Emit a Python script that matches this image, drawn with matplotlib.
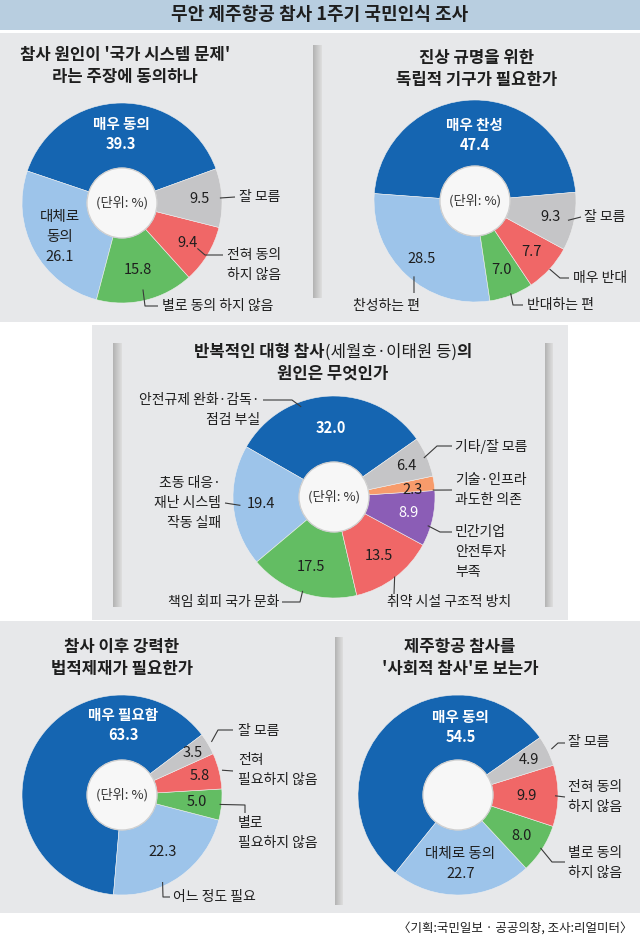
import numpy as np
import matplotlib
matplotlib.use('Agg')
import matplotlib.pyplot as plt
from matplotlib.patches import Rectangle, Circle
from matplotlib.colors import LinearSegmentedColormap

plt.rcParams['font.family'] = ['Noto Sans CJK KR', 'DejaVu Sans']

W, H = 640, 940

# ---------------- data ----------------
TITLE = '무안 제주항공 참사 1주기 국민인식 조사'
SOURCE = '〈기획:국민일보 · 공공의창, 조사:리얼미터〉'
UNIT = '(단위: %)'

q1_title = ["참사 원인이 '국가 시스템 문제'", '라는 주장에 동의하나']
q1_labels = ['매우 동의', '대체로\n동의', '별로 동의 하지 않음', '전혀 동의\n하지 않음', '잘 모름']
q1_values = [39.3, 26.1, 15.8, 9.4, 9.5]

q2_title = ['진상 규명을 위한', '독립적 기구가 필요한가']
q2_labels = ['매우 찬성', '찬성하는 편', '반대하는 편', '매우 반대', '잘 모름']
q2_values = [47.4, 28.5, 7.0, 7.7, 9.3]

q3_title = [['반복적인 대형 참사', '(세월호·이태원 등)', '의'], '원인은 무엇인가']
q3_labels = ['안전규제 완화·감독·\n점검 부실', '초동 대응·\n재난 시스템\n작동 실패', '책임 회피 국가 문화',
             '취약 시설 구조적 방치', '민간기업\n안전투자\n부족', '기술·인프라\n과도한 의존', '기타/잘 모름']
q3_values = [32.0, 19.4, 17.5, 13.5, 8.9, 2.3, 6.4]

q4_title = ['참사 이후 강력한', '법적제재가 필요한가']
q4_labels = ['매우 필요함', '어느 정도 필요', '별로\n필요하지 않음', '전혀\n필요하지 않음', '잘 모름']
q4_values = [63.3, 22.3, 5.0, 5.8, 3.5]

q5_title = ['제주항공 참사를', "'사회적 참사'로 보는가"]
q5_labels = ['매우 동의', '대체로 동의', '별로 동의\n하지 않음', '전혀 동의\n하지 않음', '잘 모름']
q5_values = [54.5, 22.7, 8.0, 9.9, 4.9]

# ---------------- style ----------------
BLUE, LBLUE, GREEN, RED = '#1565b1', '#9dc4ea', '#63bd63', '#f06767'
GRAY, ORANGE, PURPLE = '#c5c5c7', '#f79b6b', '#8b5db6'
PAL5 = [BLUE, LBLUE, GREEN, RED, GRAY]
PAL7 = [BLUE, LBLUE, GREEN, RED, PURPLE, ORANGE, GRAY]
PANEL = '#e7e8ea'
BAR = '#b8cee0'
INK = '#1e1e1e'
HOLE = 35          # px radius of the white hole
GAP = 20           # px between label lines
FS_TITLE, FS_SUB, FS_LAB, FS_NUM = 13, 12, 10, 10.5

# layout per chart: inside = (radius frac, angle override, show name) per wedge
# outside = wedge -> (radius frac, angle override, leader points, first line xy, ha)
LAYOUT = [
    dict(center=(122, 203), radius=100, start=20, title_xy=(125, 55), unit=True,
         inside=[(0.69, None, True), (0.71, None, True), (0.69, None, False),
                 (0.77, None, False), (0.78, None, False)],
         outside={2: (0.89, None, [(145, 306), (158, 306)], (162, 306), 'left'),
                  3: (0.88, None, [(205, 255), (223, 255)], (227, 255), 'left'),
                  4: (0.98, None, [(235, 197)], (239, 197), 'left')}),
    dict(center=(475, 201), radius=101, start=5, title_xy=(477, 58), unit=True,
         inside=[(0.65, None, True), (0.78, None, False), (0.73, None, False),
                 (0.75, None, False), (0.76, None, False)],
         outside={1: (0.96, 231, [(414, 293)], (353, 306), 'left'),
                  2: (0.98, None, [(513, 305), (523, 305)], (527, 305), 'left'),
                  3: (1.0, None, [(560, 278), (569, 278)], (573, 278), 'left'),
                  4: (0.94, None, [(581, 217)], (584, 217), 'left')}),
    dict(center=(334, 497), radius=101, start=35, title_xy=(333, 352), unit=True,
         inside=[(0.68, None, False), (0.73, None, False), (0.73, None, False), (0.74, None, False),
                 (0.76, None, False), (0.78, 5, False), (0.78, None, False)],
         outside={0: (0.95, 110, [(292, 400), (263, 400)], (260, 400), 'right'),
                  1: (0.93, None, [(225, 503)], (221, 483), 'right'),
                  2: (0.98, None, [(300, 602), (282, 602)], (279, 602), 'right'),
                  3: (0.99, None, [(394, 594)], (387, 602), 'left'),
                  4: (0.97, 343, [(440, 532), (452, 532)], (455, 532), 'left'),
                  5: (0.98, 4, [(452, 490)], (455, 480), 'left'),
                  6: (0.97, None, [(437, 446), (452, 446)], (455, 446), 'left')}),
    dict(center=(122, 795), radius=100, start=37, title_xy=(122, 647), unit=True,
         inside=[(0.70, 89, True), (0.70, None, False), (0.75, None, False),
                 (0.80, None, False), (0.82, None, False)],
         outside={1: (0.96, 295, [(163, 897), (170, 897)], (173, 897), 'left'),
                  2: (0.98, None, [(245, 805), (245, 813)], (238, 823), 'left'),
                  3: (1.03, None, [(233, 771)], (238, 760), 'left'),
                  4: (1.04, None, [(218, 730), (233, 730)], (238, 731), 'left')}),
    dict(center=(458, 795), radius=100, start=35, title_xy=(460, 647), unit=False,
         inside=[(0.68, 88, True), (0.69, None, True), (0.76, None, False),
                 (0.69, None, False), (0.79, None, False)],
         outside={2: (0.98, None, [(552, 862), (565, 862)], (568, 853), 'left'),
                  3: (0.97, None, [(565, 797)], (568, 787), 'left'),
                  4: (1.04, None, [(558, 743), (565, 743)], (568, 742), 'left')}),
]

# ---------------- figure ----------------
fig = plt.figure(figsize=(W / 100, H / 100), dpi=100)
fig.patch.set_facecolor('white')

bg = fig.add_axes([0, 0, 1, 1], zorder=0)
bg.set_xlim(0, W); bg.set_ylim(H, 0); bg.axis('off')
bg.add_patch(Rectangle((0, 0), W, 30, fc=BAR, ec='none'))
bg.add_patch(Rectangle((0, 33), W, 289, fc=PANEL, ec='none'))
bg.add_patch(Rectangle((92, 325), 476, 295, fc=PANEL, ec='none'))
bg.add_patch(Rectangle((0, 621), W, 292, fc=PANEL, ec='none'))

top = fig.add_axes([0, 0, 1, 1], zorder=10)
top.set_xlim(0, W); top.set_ylim(H, 0); top.axis('off')
top.patch.set_alpha(0)

div_cmap = LinearSegmentedColormap.from_list('div', ['#b3b3b3', '#c9c9c9', '#dedede'])


def divider(x, y0, y1, w=8):
    dax = fig.add_axes([x / W, 1 - y1 / H, w / W, (y1 - y0) / H], zorder=3)
    dax.imshow(np.linspace(0, 1, 32).reshape(1, -1), cmap=div_cmap, aspect='auto')
    dax.axis('off')


divider(313, 45, 298, 9)
divider(113, 343, 607)
divider(545, 343, 607)
divider(335, 637, 905)


def text_lines(x, y, lines, ha='center', **kw):
    for k, line in enumerate(lines):
        top.text(x, y + k * GAP, line, ha=ha, va='center', **kw)


def draw_chart(spec, labels, values, colors, title):
    cx, cy = spec['center']
    R = spec['radius']
    pax = fig.add_axes([(cx - R) / W, 1 - (cy + R) / H, 2 * R / W, 2 * R / H], zorder=2)
    wedges, _ = pax.pie(values, colors=colors, startangle=spec['start'], counterclock=True, radius=1,
                        wedgeprops=dict(width=1 - HOLE / R, edgecolor='#eeeeee', linewidth=0.4))
    pax.set_xlim(-1, 1); pax.set_ylim(-1, 1); pax.set_aspect('equal'); pax.axis('off')
    pax.add_patch(Circle((0, 0), HOLE / R, fc='#f7f7f7', ec='#cfcfcf', lw=0.9, zorder=5))
    if spec['unit']:
        top.text(cx, cy, UNIT, ha='center', va='center', fontsize=9.5, color='#333333')

    def pt(a, r):
        t = np.deg2rad(a)
        return cx + r * R * np.cos(t), cy - r * R * np.sin(t)

    for i, w in enumerate(wedges):
        mid = (w.theta1 + w.theta2) / 2
        r, ang, named = spec['inside'][i]
        x, y = pt(mid if ang is None else ang, r)
        light = colors[i] in (BLUE, PURPLE)
        col = 'white' if light else INK
        weight = 'bold' if colors[i] == BLUE else 500
        lines = (labels[i].split('\n') if named else []) + [f'{values[i]:.1f}']
        y0 = y - (len(lines) - 1) * GAP / 2
        text_lines(x, y0, lines, fontsize=FS_NUM, color=col, fontweight=weight)

    for i, (r, ang, path, xy, ha) in spec['outside'].items():
        w = wedges[i]
        mid = (w.theta1 + w.theta2) / 2
        x0, y0 = pt(mid if ang is None else ang, r)
        top.plot([x0] + [p[0] for p in path], [y0] + [p[1] for p in path],
                 color='#3a3a3a', lw=0.8, solid_capstyle='butt')
        text_lines(xy[0], xy[1], labels[i].split('\n'), ha=ha, fontsize=FS_LAB, color=INK)

    tx, ty = spec['title_xy']
    first, second = title
    if isinstance(first, list):
        # mixed weight first line: bold / regular / bold
        rend = fig.canvas.get_renderer()
        weights = ['bold', 'normal', 'bold']
        parts = [top.text(0, ty, s, ha='left', va='center', fontsize=FS_SUB, color=INK, fontweight=wt)
                 for s, wt in zip(first, weights)]
        widths = [p.get_window_extent(rend).width for p in parts]
        x = tx - sum(widths) / 2
        for p, wd in zip(parts, widths):
            p.set_x(x)
            x += wd
    else:
        top.text(tx, ty, first, ha='center', va='center', fontsize=FS_SUB, color=INK, fontweight='bold')
    top.text(tx, ty + 22, second, ha='center', va='center', fontsize=FS_SUB, color=INK, fontweight='bold')


draw_chart(LAYOUT[0], q1_labels, q1_values, PAL5, q1_title)
draw_chart(LAYOUT[1], q2_labels, q2_values, PAL5, q2_title)
draw_chart(LAYOUT[2], q3_labels, q3_values, PAL7, q3_title)
draw_chart(LAYOUT[3], q4_labels, q4_values, PAL5, q4_title)
draw_chart(LAYOUT[4], q5_labels, q5_values, PAL5, q5_title)

top.text(W / 2, 15, TITLE, ha='center', va='center', fontsize=FS_TITLE, fontweight='bold', color=INK)
top.text(632, 928, SOURCE, ha='right', va='center', fontsize=9, color=INK)

fig.savefig('out.png', dpi=100)
